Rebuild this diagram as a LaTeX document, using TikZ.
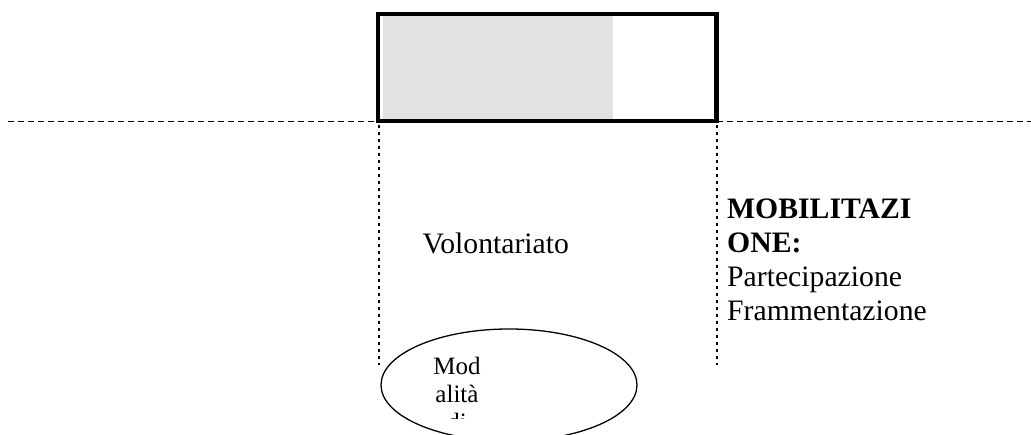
\documentclass[tikz,border=0pt]{standalone}
\usepackage{fontspec}
\setmainfont{Liberation Serif}
\usetikzlibrary{shapes.geometric}

\definecolor{shade}{HTML}{E3E3E3}

\tikzset{
  x=1pt, y=-1pt,
  frame/.style={draw=black, line width=4.3pt, outer sep=0pt, inner sep=0pt},
  shadebox/.style={fill=shade, draw=none, outer sep=0pt, inner sep=0pt},
  baseline dash/.style={draw=black, line width=1.3pt, dash pattern=on 6pt off 4pt},
  guide/.style={draw=black, line width=1.3pt, dash pattern=on 3.5pt off 3.5pt},
  bigtext/.style={anchor=base west, inner sep=0pt, font=\fontsize{29.7}{34}\selectfont},
  boldtext/.style={bigtext, font=\fontsize{29.7}{34}\selectfont\bfseries},
  ovaltext/.style={anchor=base, inner sep=0pt, font=\fontsize{25}{28}\selectfont},
  oval/.style={ellipse, draw=black, line width=1.3pt, minimum width=256pt, minimum height=112pt, inner sep=0pt}
}

\begin{document}
\begin{tikzpicture}
\useasboundingbox (0,0) rectangle (1031,435);

% shaded part of the bar and its frame
\node[shadebox, minimum width=230pt, minimum height=103pt] (fill) at (498,67.5) {};
\node[frame, minimum width=338.2pt, minimum height=107.1pt] (bar) at (547.4,67.75) {};

% horizontal dashed line on either side of the bar
\coordinate (hl) at (8,121.3);
\coordinate (hr) at (1031,121.3);
\draw[baseline dash] (hl) -- (bar.south west);
\draw[baseline dash] (bar.south east) -- (hr);

% vertical dotted guides
\coordinate (gl1) at (379,125);
\coordinate (gl2) at (379,365);
\coordinate (gr1) at (717,125);
\coordinate (gr2) at (717,365);
\draw[guide] (gl1) -- (gl2);
\draw[guide] (gr1) -- (gr2);

% labels
\node[bigtext] (vol) at (422.5,254) {Volontariato};
\node[boldtext] (mob1) at (727,219) {MOBILITAZI};
\node[boldtext] (mob2) at (727,253) {ONE:};
\node[bigtext] (part) at (727,287) {Partecipazione};
\node[bigtext] (fram) at (727,321) {Frammentazione};

% ellipse with its clipped text
\node[oval] (ell) at (509,385) {};
\node[ovaltext] (m1) at (457,375) {Mod};
\node[ovaltext] (m2) at (457,403) {alità};
\begin{scope}
  \clip (400,405) rectangle (520,419);
  \node[ovaltext] (m3) at (457,431) {di};
\end{scope}
\end{tikzpicture}
\end{document}
